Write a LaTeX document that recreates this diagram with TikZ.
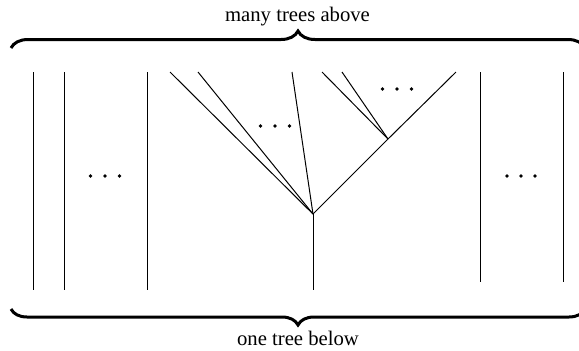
\documentclass[tikz,border=0pt]{standalone}
\usepackage{fontspec}
\setmainfont{Liberation Serif}
\usetikzlibrary{decorations.pathreplacing}
\begin{document}
\begin{tikzpicture}[x=0.5pt,y=-0.5pt,
  edge/.style={line width=0.5pt},
  bracetop/.style={line width=1.5pt, decorate, decoration={brace, amplitude=8.5pt}},
  bracebottom/.style={line width=1.5pt, decorate, decoration={brace, mirror, amplitude=8pt}},
  caption/.style={font=\fontsize{10.35}{12}\selectfont, inner sep=0pt, anchor=base},
  dotmark/.style={circle, fill, inner sep=0pt, minimum size=1.8pt}]
\useasboundingbox (0,0) rectangle (579,350);

% braces and their captions
\coordinate (tl) at (11,48);
\coordinate (tr) at (585,48);
\coordinate (bl) at (11,309);
\coordinate (br) at (585,309);
\draw[bracetop] (tl) -- (tr);
\draw[bracebottom] (bl) -- (br);
\node[caption] (above) at (297.5,21) {many trees above};
\node[caption] (below) at (298,345) {one tree below};

% left group of single edges
\coordinate (l1t) at (33,72);  \coordinate (l1b) at (33,290);
\coordinate (l2t) at (64,72);  \coordinate (l2b) at (64,290);
\coordinate (l3t) at (147,72); \coordinate (l3b) at (147,290);
\draw[edge] (l1t) -- (l1b);
\draw[edge] (l2t) -- (l2b);
\draw[edge] (l3t) -- (l3b);
\node[dotmark] (ld1) at (90.5,176) {};
\node[dotmark] (ld2) at (105,176) {};
\node[dotmark] (ld3) at (119.5,176) {};

% the branching tree
\coordinate (root) at (313,214);
\coordinate (trunk) at (313,290);
\coordinate (a1) at (170,72);
\coordinate (a2) at (198,72);
\coordinate (a3) at (292,72);
\coordinate (mid) at (388,139);
\coordinate (b1) at (322,72);
\coordinate (b2) at (342,72);
\coordinate (b3) at (456,72);
\draw[edge] (root) -- (trunk);
\draw[edge] (root) -- (a1);
\draw[edge] (root) -- (a2);
\draw[edge] (root) -- (a3);
\draw[edge] (root) -- (mid);
\draw[edge] (mid) -- (b1);
\draw[edge] (mid) -- (b2);
\draw[edge] (mid) -- (b3);
\node[dotmark] (td1) at (260.5,126) {};
\node[dotmark] (td2) at (275,126) {};
\node[dotmark] (td3) at (289.5,126) {};
\node[dotmark] (sd1) at (382.5,89) {};
\node[dotmark] (sd2) at (397,89) {};
\node[dotmark] (sd3) at (411.5,89) {};

% right group of single edges
\coordinate (r1t) at (480,72);  \coordinate (r1b) at (480,282);
\coordinate (r2t) at (563,72);  \coordinate (r2b) at (563,282);
\draw[edge] (r1t) -- (r1b);
\draw[edge] (r2t) -- (r2b);
\node[dotmark] (rd1) at (507,176) {};
\node[dotmark] (rd2) at (521,176) {};
\node[dotmark] (rd3) at (535,176) {};
\end{tikzpicture}
\end{document}
